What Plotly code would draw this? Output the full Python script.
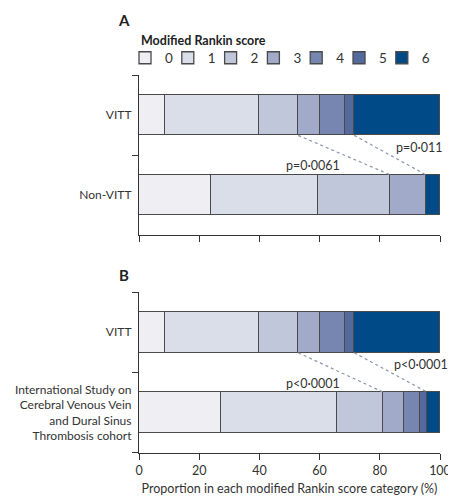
import plotly.graph_objects as go
from plotly.subplots import make_subplots
import numpy as np

scores = ["0", "1", "2", "3", "4", "5", "6"]
colors = ["#eeeef3", "#d9dee9", "#c1c7db", "#a1abc9", "#7686b0", "#54699c", "#004a87"]

vitt = [8.6, 31.4, 12.9, 7.1, 8.6, 2.9, 28.6]
non_vitt = [23.8, 35.7, 23.8, 11.9, 0.0, 0.0, 4.8]
iscvt = [27.2, 38.7, 15.3, 6.9, 5.3, 2.4, 4.2]

cat_a = ["Non-VITT", "VITT"]
cat_b = ["International Study on<br>Cerebral Venous Vein<br>and Dural Sinus<br>Thrombosis cohort", "VITT"]

p_a = ["p=0·0061", "p=0·011"]
p_b = ["p<0·0001", "p<0·0001"]

FONT = "Lato"
BAR_W = 0.51

fig = make_subplots(rows=2, cols=1, vertical_spacing=0.15)

legend_names = ["legend" if i == 0 else f"legend{i + 1}" for i in range(len(scores))]

for i, s in enumerate(scores):
    fig.add_trace(go.Bar(
        y=cat_a, x=[non_vitt[i], vitt[i]], orientation="h", name=s,
        marker=dict(color=colors[i], line=dict(color="#4a4a4a", width=1.3)),
        width=BAR_W, showlegend=True, legend=legend_names[i], legendgroup=s,
        hoverinfo="skip"), row=1, col=1)
    fig.add_trace(go.Bar(
        y=cat_b, x=[iscvt[i], vitt[i]], orientation="h", name=s,
        marker=dict(color=colors[i], line=dict(color="#4a4a4a", width=1.3)),
        width=BAR_W, showlegend=False, legend=legend_names[i], legendgroup=s,
        hoverinfo="skip"), row=2, col=1)

fig.update_layout(barmode="stack")

def connectors(top, bottom, xref, yref, labels, label_pos):
    ct = np.cumsum(top)
    cb = np.cumsum(bottom)
    for idx in [2, 5]:
        fig.add_shape(type="line", xref=xref, yref=yref,
                      x0=ct[idx], y0=1 - BAR_W / 2, x1=cb[idx], y1=0 + BAR_W / 2,
                      line=dict(color="#8a94a8", width=1.2, dash="dot"))
    fig.add_annotation(xref=xref, yref=yref, x=ct[2] + 5, y=label_pos[0],
                       text=labels[0], showarrow=False, xanchor="center", yanchor="middle",
                       font=dict(size=12.5, family=FONT, color="#333"))
    fig.add_annotation(xref=xref, yref=yref, x=cb[5] - 2, y=label_pos[1],
                       text=labels[1], showarrow=False, xanchor="center", yanchor="middle",
                       font=dict(size=12.5, family=FONT, color="#333"))

connectors(vitt, non_vitt, "x", "y", p_a, [0.373, 0.588])
connectors(vitt, iscvt, "x2", "y2", p_b, [0.365, 0.60])

axis_common = dict(showline=True, linecolor="#333", linewidth=1.2, ticks="outside",
                   ticklen=6, tickcolor="#333", tickwidth=1.2, showgrid=False, zeroline=False,
                   automargin=False, tickfont=dict(size=12.5, family=FONT, color="#333"))
fig.update_xaxes(range=[0, 100], tickvals=[0, 20, 40, 60, 80, 100], **axis_common)
fig.update_xaxes(showticklabels=False, row=1, col=1)
fig.update_xaxes(title=dict(text="Proportion in each modified Rankin score category (%)",
                            font=dict(size=12.5, family=FONT, color="#333"), standoff=7), row=2, col=1)
fig.update_yaxes(type="category", tickson="boundaries", range=[-0.5, 1.5], ticklabelstandoff=4,
                 **axis_common)
fig.update_yaxes(tickfont=dict(size=12, family=FONT, color="#333"))
fig.update_yaxes(categoryorder="array", categoryarray=cat_a, row=1, col=1)
fig.update_yaxes(categoryorder="array", categoryarray=cat_b, row=2, col=1)

# one single-entry legend per score so the entries sit at the reference spacing
legend_layout = {}
for i, name in enumerate(legend_names):
    legend_layout[name] = dict(orientation="h", x=-0.0465 + i * 0.1422, xanchor="left",
                               y=1.045, yanchor="middle",
                               font=dict(size=13.5, family=FONT, color="#333"),
                               itemwidth=30, bgcolor="rgba(0,0,0,0)")

# page body has an 8px margin, so the figure is 8px smaller on each axis
fig.update_layout(
    width=448, height=491,
    margin=dict(l=131, r=16, t=67, b=46, autoexpand=False),
    paper_bgcolor="white", plot_bgcolor="white",
    font=dict(family=FONT, size=12.5, color="#333"),
    bargap=0,
    annotations=list(fig.layout.annotations) + [
        dict(text="<b>Modified Rankin score</b>", xref="paper", yref="paper", x=0, y=1.09,
             xanchor="left", yanchor="middle", showarrow=False,
             font=dict(size=12.5, family=FONT, color="#222")),
        dict(text="<b>A</b>", xref="paper", yref="paper", x=-0.051, y=1.1455,
             xanchor="center", yanchor="middle",
             showarrow=False, font=dict(size=15, family=FONT, color="#222")),
        dict(text="<b>B</b>", xref="paper", yref="paper", x=-0.051, y=0.4717,
             xanchor="center", yanchor="middle",
             showarrow=False, font=dict(size=15, family=FONT, color="#222")),
    ],
    **legend_layout,
)
fig.update_layout(yaxis=dict(domain=[0.5767, 1.0]), yaxis2=dict(domain=[0.0, 0.4259]))

fig.write_html("out.html")
